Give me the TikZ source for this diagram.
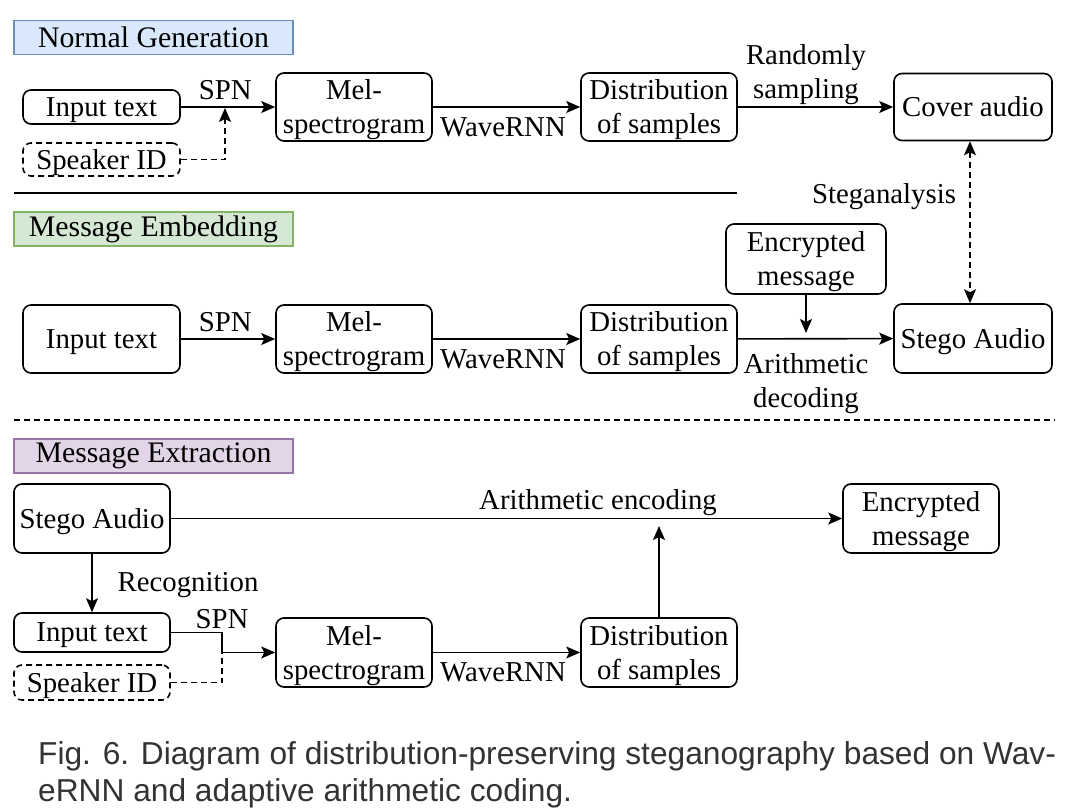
\documentclass[tikz,border=0pt]{standalone}
\usepackage{fontspec}
\setmainfont{Liberation Serif}
\newfontfamily\serfont{Liberation Serif}
\newfontfamily\capfont{Liberation Sans}
\usetikzlibrary{arrows.meta}
\definecolor{bluef}{HTML}{DAE8FC}\definecolor{blued}{HTML}{6C8EBF}
\definecolor{greenf}{HTML}{D5E8D4}\definecolor{greend}{HTML}{82B366}
\definecolor{purplef}{HTML}{E1D5E7}\definecolor{purpled}{HTML}{9673A6}
\newcommand{\mainsz}{\serfont\fontsize{28.8}{34}\selectfont}
\newcommand{\titlesz}{\serfont\fontsize{29.8}{34}\selectfont}
\tikzset{
  nbox/.style={draw, rounded corners=8pt, line width=1.6pt, inner sep=0pt, align=center, font=\mainsz, text depth=0pt},
  dnbox/.style={nbox, dash pattern=on 6pt off 4pt},
  title/.style={draw=#1, line width=1.4pt, inner sep=0pt, minimum width=279pt, minimum height=34pt, font=\titlesz},
  lbl/.style={inner sep=0pt, align=center, font=\mainsz},
  conn/.style={line width=1.6pt, -{Stealth[length=14pt,width=12pt,inset=3pt]}},
  dconn/.style={conn, dash pattern=on 6pt off 4pt},
  plain/.style={line width=1.6pt},
}
\begin{document}
\begin{tikzpicture}[x=1pt,y=-1pt]
\useasboundingbox (0,0) rectangle (1071,810);
% ---------- Normal generation
\node[title=blued, fill=bluef] (t1) at (153.5,37.5) {Normal Generation};
\node[nbox, minimum width=157pt, minimum height=34pt] (in1) at (101.5,107) {Input text};
\node[dnbox, minimum width=157pt, minimum height=33pt] (sp1) at (101.5,159.5) {Speaker ID};
\node[nbox, minimum width=156pt, minimum height=68pt] (mel1) at (354,107) {Mel-\\spectrogram};
\node[nbox, minimum width=156pt, minimum height=68pt] (dist1) at (659,107) {Distribution\\of samples};
\node[nbox, minimum width=158pt, minimum height=67pt] (cov) at (973,107) {Cover audio};
\draw[conn] (in1) -- (mel1) node[lbl, pos=0.47, above=6pt] (spn1) {SPN};
\coordinate (j1) at (225,108);
\draw[dconn] (sp1.east) -| (j1);
\draw[conn] (mel1) -- (dist1);
\node[lbl] (wr1) at (503,127) {WaveRNN};
\draw[conn] (dist1) -- (cov);
\node[lbl] (rs) at (806,75) {Randomly\\sampling};
\draw[plain] (14,193) -- (737,193);
% ---------- Message embedding
\node[title=greend, fill=greenf] (t2) at (153.5,229) {Message Embedding};
\node[nbox, minimum width=157pt, minimum height=68pt] (in2) at (101.5,339) {Input text};
\node[nbox, minimum width=156pt, minimum height=68pt] (mel2) at (354,339) {Mel-\\spectrogram};
\node[nbox, minimum width=156pt, minimum height=68pt] (dist2) at (659,339) {Distribution\\of samples};
\node[nbox, minimum width=158pt, minimum height=69pt] (sa1) at (973,338.5) {Stego Audio};
\node[nbox, minimum width=160pt, minimum height=70pt] (em1) at (806,259) {Encrypted\\message};
\draw[conn] (in2) -- (mel2) node[lbl, pos=0.47, above=6pt] (spn2) {SPN};
\draw[conn] (mel2) -- (dist2);
\node[lbl] (wr2) at (503,359) {WaveRNN};
\draw[conn] (dist2) -- (sa1);
\coordinate (j2) at (806,333);
\draw[conn] (em1) -- (j2);
\node[lbl] (ad) at (806,384) {Arithmetic\\decoding};
\draw[dconn, {Stealth[length=14pt,width=12pt,inset=3pt]}-{Stealth[length=14pt,width=12pt,inset=3pt]}] (cov.south -| 970,0) -- (sa1.north -| 970,0);
\node[lbl] (sg) at (884,197) {Steganalysis};
\draw[plain, dash pattern=on 6pt off 4pt] (14,420) -- (1055,420);
% ---------- Message extraction
\node[title=purpled, fill=purplef] (t3) at (153.5,456) {Message Extraction};
\node[nbox, minimum width=156pt, minimum height=69pt] (sa2) at (92,518.5) {Stego Audio};
\node[nbox, minimum width=156pt, minimum height=69pt] (em2) at (921,518.5) {Encrypted\\message};
\node[nbox, minimum width=156pt, minimum height=39pt] (in3) at (92,632.5) {Input text};
\node[dnbox, minimum width=156pt, minimum height=35pt] (sp3) at (92,682.5) {Speaker ID};
\node[nbox, minimum width=156pt, minimum height=69pt] (mel3) at (354,652.5) {Mel-\\spectrogram};
\node[nbox, minimum width=156pt, minimum height=69pt] (dist3) at (659,652.5) {Distribution\\of samples};
\draw[conn] (sa2) -- (em2);
\node[lbl] (ae) at (598,503) {Arithmetic encoding};
\draw[conn] (sa2) -- (in3);
\node[lbl] (rec) at (188,585) {Recognition};
\coordinate (j3) at (222,652.5);
\draw[conn] (in3.east) -| (j3) -- (mel3.west);
\node[lbl] (spn3) at (222,619) {SPN};
\draw[plain, dash pattern=on 6pt off 4pt] (sp3.east) -| (j3);
\draw[conn] (mel3) -- (dist3);
\node[lbl] (wr3) at (503,672) {WaveRNN};
\coordinate (j4) at (659,526);
\draw[conn] (dist3) -- (j4);
% ---------- caption
\node[inner sep=0pt, anchor=base west, font=\capfont\fontsize{31.7}{37}\selectfont, text=black!80] (cap1) at (38,764) {Fig. 6. Diagram of distribution-preserving steganography based on Wav-};
\node[inner sep=0pt, anchor=base west, font=\capfont\fontsize{31.7}{37}\selectfont, text=black!80] (cap2) at (38,801) {eRNN and adaptive arithmetic coding.};
\end{tikzpicture}
\end{document}
